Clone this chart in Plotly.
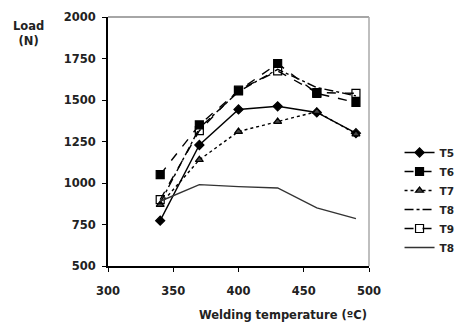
import plotly.graph_objects as go

temps = [340, 370, 400, 430, 460, 490]
t5 = [773, 1229, 1443, 1462, 1425, 1300]
t6 = [1050, 1350, 1555, 1720, 1540, 1485]
t7 = [870, 1140, 1310, 1370, 1430, 1295]
t8 = [880, 1330, 1550, 1685, 1575, 1525]
t9 = [900, 1315, 1560, 1675, 1545, 1540]
t8b = [890, 990, 978, 970, 850, 785]

series = [
    ("T5", t5, "solid", "diamond", "black", 7),
    ("T6", t6, "dash", "square", "black", 8),
    ("T7", t7, "dot", "triangle-up", "#444", 7),
    ("T8", t8, "dashdot", None, "black", 0),
    ("T9", t9, "dash", "square-open", "black", 8),
    ("T8", t8b, "solid", None, "black", 0),
]

fig = go.Figure()
for name, vals, dash, sym, col, sz in series:
    if sym:
        fig.add_trace(go.Scatter(
            x=temps, y=vals, name=name, mode="lines+markers",
            line=dict(color="black", width=1.4, dash=dash),
            marker=dict(symbol=sym, size=sz, color=col,
                        line=dict(color="black", width=1.2))))
    else:
        fig.add_trace(go.Scatter(
            x=temps, y=vals, name=name, mode="lines",
            line=dict(color="#333" if dash == "solid" else "black",
                      width=1.4, dash=dash)))

fam = "DejaVu Sans, Verdana, sans-serif"
font = dict(family=fam, size=11.5, color="#222", weight="bold")

fig.update_layout(
    width=460, height=318,
    margin=dict(l=100, r=96, t=9, b=60),
    paper_bgcolor="white", plot_bgcolor="white",
    font=font,
    showlegend=True,
    legend=dict(x=1.117, y=0.514, xanchor="left", yanchor="top",
                font=dict(family=fam, size=10.5, color="#222", weight="bold"),
                bgcolor="rgba(0,0,0,0)", tracegroupgap=0, itemwidth=30),
    xaxis=dict(range=[300, 500], tickvals=[300, 350, 400, 450, 500],
               ticks="outside", ticklen=4, tickcolor="black",
               ticklabelstandoff=9, ticklabeloverflow="allow", automargin=False,
               showline=True, linecolor="black", linewidth=2,
               mirror=False, showgrid=False, zeroline=False),
    yaxis=dict(range=[500, 2000], tickvals=[500, 750, 1000, 1250, 1500, 1750, 2000],
               ticks="outside", ticklen=4, tickcolor="black",
               ticklabelstandoff=4, ticklabeloverflow="allow", automargin=False,
               showline=True, linecolor="black", linewidth=2,
               showgrid=False, zeroline=False),
    shapes=[
        dict(type="line", xref="paper", yref="paper", x0=0, x1=1, y0=1, y1=1,
             line=dict(color="#888", width=1.5)),
        dict(type="line", xref="paper", yref="paper", x0=1, x1=1, y0=0, y1=1,
             line=dict(color="#aaa", width=1.5)),
    ],
    annotations=[
        dict(text="Load<br>(N)", xref="paper", yref="paper", x=-0.303, y=0.935,
             xanchor="center", yanchor="middle", showarrow=False,
             font=dict(family=fam, size=11.5, weight="bold")),
        dict(text="Welding temperature (ºC)", xref="paper", yref="paper",
             x=0.67, y=-0.197, xanchor="center", yanchor="middle",
             showarrow=False, font=dict(family=fam, size=11.5, weight="bold")),
    ],
)

fig.write_html("out.html")
